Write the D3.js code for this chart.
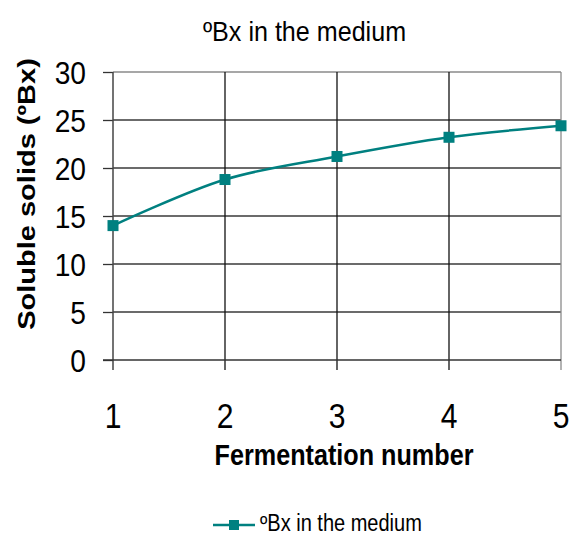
<!DOCTYPE html>
<html>
<head>
<meta charset="utf-8">
<script src="https://cdn.jsdelivr.net/npm/d3@7"></script>
<style>
  body { margin: 0; background: #fff; }
  text { font-family: "Liberation Sans", Arial, sans-serif; fill: #000; }
</style>
</head>
<body>
<svg id="chart" width="571" height="533"></svg>
<script>
// data
var fermentations = [1, 2, 3, 4, 5];
var brixValues = [14.0, 18.8, 21.2, 23.2, 24.4];
var yTicks = [0, 5, 10, 15, 20, 25, 30];
var seriesName = "ºBx in the medium";

var svg = d3.select("#chart");
var plotLeft = 113, plotRight = 561, plotTop = 72, plotBottom = 360;
var teal = "#008080";

var x = d3.scaleLinear().domain([1, 5]).range([plotLeft, plotRight]);
var y = d3.scaleLinear().domain([0, 30]).range([plotBottom, plotTop]);

// horizontal grid lines
svg.selectAll("line.hgrid")
  .data(yTicks.filter(function(d){ return d > 0; }))
  .enter().append("line")
  .attr("class", "hgrid")
  .attr("x1", plotLeft).attr("x2", plotRight)
  .attr("y1", function(d){ return y(d); })
  .attr("y2", function(d){ return y(d); })
  .attr("stroke", function(d){ return d == 30 ? "#8a8a8a" : "#3a3a3a"; })
  .attr("stroke-width", 1.3);

// vertical grid lines
svg.selectAll("line.vgrid")
  .data(fermentations.filter(function(d){ return d > 1; }))
  .enter().append("line")
  .attr("class", "vgrid")
  .attr("x1", function(d){ return x(d); })
  .attr("x2", function(d){ return x(d); })
  .attr("y1", plotTop).attr("y2", plotBottom + 10)
  .attr("stroke", function(d){ return d == 5 ? "#8a8a8a" : "#111"; })
  .attr("stroke-width", 1.3);

// y axis with outer ticks
var yAxis = svg.append("g")
  .attr("transform", "translate(" + plotLeft + ",0)")
  .call(d3.axisLeft(y).tickValues(yTicks).tickSize(10).tickFormat(""));
yAxis.select(".domain").remove();
yAxis.selectAll(".tick line").attr("stroke", "#333").attr("stroke-width", 1.3);
svg.append("line")
  .attr("x1", plotLeft).attr("x2", plotLeft)
  .attr("y1", plotTop).attr("y2", plotBottom + 10)
  .attr("stroke", "#444").attr("stroke-width", 1.5);

// x axis
svg.append("line")
  .attr("x1", plotLeft - 10).attr("x2", plotRight)
  .attr("y1", plotBottom).attr("y2", plotBottom)
  .attr("stroke", "#333").attr("stroke-width", 1.5);

// y tick labels
svg.selectAll("text.ylab")
  .data(yTicks)
  .enter().append("text")
  .attr("class", "ylab")
  .attr("transform", function(d){ return "translate(86," + (y(d) + 11.5) + ") scale(0.88,1)"; })
  .attr("text-anchor", "end")
  .style("font-size", "32px")
  .text(function(d){ return d; });

// x tick labels
svg.selectAll("text.xlab")
  .data(fermentations)
  .enter().append("text")
  .attr("class", "xlab")
  .attr("transform", function(d){ return "translate(" + x(d) + ",428) scale(0.86,1)"; })
  .attr("text-anchor", "middle")
  .style("font-size", "35px")
  .text(function(d){ return d; });

// title
svg.append("text")
  .attr("transform", "translate(304.5,41) scale(0.93,1)")
  .attr("text-anchor", "middle")
  .style("font-size", "27px")
  .text(seriesName);

// axis titles
svg.append("text")
  .attr("transform", "translate(344,465) scale(0.84,1)")
  .attr("text-anchor", "middle")
  .style("font-size", "30px")
  .style("font-weight", "bold")
  .text("Fermentation number");

svg.append("text")
  .attr("transform", "translate(35,194) scale(0.85,1) rotate(-90)")
  .attr("text-anchor", "middle")
  .style("font-size", "29px")
  .style("font-weight", "bold")
  .text("Soluble solids (ºBx)");

// series line
var line = d3.line()
  .x(function(d, i){ return x(fermentations[i]); })
  .y(function(d){ return y(d); })
  .curve(d3.curveCatmullRom.alpha(0.5));

svg.append("path")
  .datum(brixValues)
  .attr("d", line)
  .attr("fill", "none")
  .attr("stroke", teal)
  .attr("stroke-width", 2.5);

var ms = 11;
svg.selectAll("rect.marker")
  .data(brixValues)
  .enter().append("rect")
  .attr("class", "marker")
  .attr("x", function(d, i){ return x(fermentations[i]) - ms / 2; })
  .attr("y", function(d){ return y(d) - ms / 2; })
  .attr("width", ms).attr("height", ms)
  .attr("fill", teal);

// legend
var lg = svg.append("g").attr("transform", "translate(213,525)");
lg.append("line").attr("x1", 0).attr("x2", 42).attr("y1", 0).attr("y2", 0)
  .attr("stroke", teal).attr("stroke-width", 2.5);
lg.append("rect").attr("x", 21 - 5).attr("y", -5).attr("width", 10).attr("height", 10)
  .attr("fill", teal);
lg.append("text")
  .attr("transform", "translate(47,6) scale(0.87,1)")
  .style("font-size", "23px")
  .text(seriesName);
</script>
</body>
</html>
